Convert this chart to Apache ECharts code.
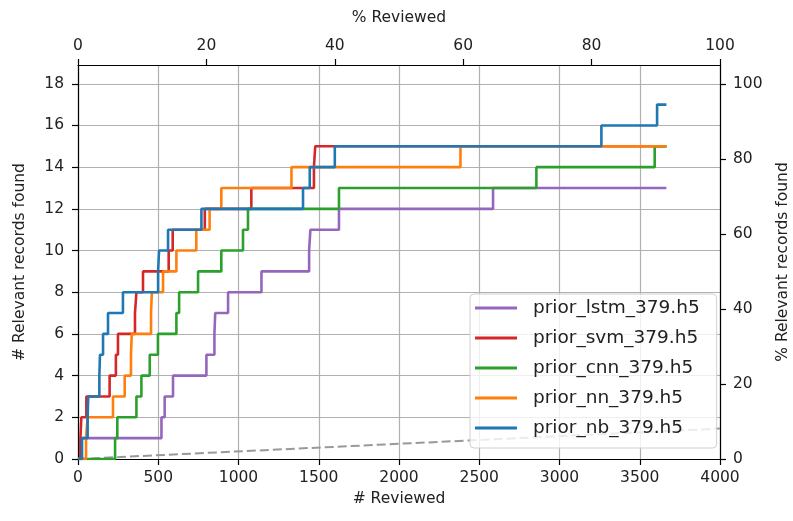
<!DOCTYPE html>
<html>
<head>
<meta charset="utf-8">
<script src="https://cdn.jsdelivr.net/npm/echarts@6/dist/echarts.min.js"></script>
<style>html,body{margin:0;padding:0;background:#fff;}#chart{width:793px;height:521px;}</style>
</head>
<body>
<div id="chart"></div>
<script>
// ---- data ----
const xTicks = [0, 500, 1000, 1500, 2000, 2500, 3000, 3500, 4000];
const yTicks = [0, 2, 4, 6, 8, 10, 12, 14, 16, 18];
const pctTicks = [0, 20, 40, 60, 80, 100];

const lstmX = [0, 15, 520, 540, 592, 800, 850, 855, 935, 1143, 1440, 1448, 1626, 2586, 3666];
const lstmY = [0, 1, 2, 3, 4, 5, 6, 7, 8, 9, 10, 11, 12, 13, 13];

const svmX = [0, 15, 21, 52, 197, 236, 249, 355, 364, 405, 565, 590, 790, 1080, 1470, 1478, 3666];
const svmY = [0, 1, 2, 3, 4, 5, 6, 7, 8, 9, 10, 11, 12, 13, 14, 15, 15];

const cnnX = [0, 231, 245, 364, 395, 447, 498, 613, 630, 748, 893, 1028, 1059, 1626, 2856, 3593, 3666];
const cnnY = [0, 1, 2, 3, 4, 5, 6, 7, 8, 9, 10, 11, 12, 13, 14, 15, 15];

const nnX = [0, 50, 60, 218, 291, 330, 335, 455, 460, 530, 613, 737, 820, 893, 1330, 2383, 3666];
const nnY = [0, 1, 2, 3, 4, 5, 6, 7, 8, 9, 10, 11, 12, 13, 14, 15, 15];

const nbX = [0, 25, 60, 64, 133, 137, 156, 187, 280, 499, 505, 561, 769, 1402, 1444, 1600, 3261, 3608, 3666];
const nbY = [0, 1, 2, 3, 4, 5, 6, 7, 8, 9, 10, 11, 12, 13, 14, 15, 16, 17, 17];

const randomX = [0, 4000];
const randomY = [0, 1.46];

const names = ['prior_lstm_379.h5', 'prior_svm_379.h5', 'prior_cnn_379.h5', 'prior_nn_379.h5', 'prior_nb_379.h5'];
const colors = ['#9467bd', '#d62728', '#2ca02c', '#ff7f0e', '#1f77b4'];

// ---- build ----
const zip = (xs, ys) => xs.map((x, i) => [x, ys[i]]);
const seriesData = [zip(lstmX, lstmY), zip(svmX, svmY), zip(cnnX, cnnY), zip(nnX, nnY), zip(nbX, nbY)];

const FONT = 'DejaVu Sans';
const TXT = '#222';
const tickFont = 15.5;
const plain = v => String(v);

const chart = echarts.init(document.getElementById('chart'), null, {renderer: 'canvas'});

const baseAxis = {
  type: 'value',
  axisLine: {show: true, onZero: false, lineStyle: {color: '#000', width: 1.2}},
  axisTick: {show: true, inside: false, length: 6, lineStyle: {color: '#000', width: 1.2}},
  axisLabel: {color: TXT, fontFamily: FONT, fontSize: tickFont, formatter: plain, hideOverlap: false},
  nameTextStyle: {color: TXT, fontFamily: FONT, fontSize: tickFont},
  nameLocation: 'middle'
};

const series = [{
  type: 'line',
  name: 'random',
  data: zip(randomX, randomY),
  showSymbol: false,
  silent: true,
  lineStyle: {color: '#999999', width: 2, type: [9, 4]},
  z: 2
}];
seriesData.forEach((d, i) => {
  series.push({
    type: 'line',
    name: names[i],
    data: d,
    step: 'end',
    showSymbol: false,
    color: colors[i],
    lineStyle: {color: colors[i], width: 2.6},
    z: 3 + i
  });
});

chart.setOption({
  animation: false,
  backgroundColor: '#fff',
  grid: {left: 78, right: 73, top: 65, bottom: 62, containLabel: false, outerBoundsMode: 'none'},
  xAxis: [
    Object.assign({}, baseAxis, {
      position: 'bottom', min: 0, max: 4000, interval: 500,
      name: '# Reviewed', nameGap: 31,
      axisLabel: Object.assign({}, baseAxis.axisLabel, {margin: 11, customValues: xTicks}),
      axisTick: Object.assign({}, baseAxis.axisTick, {customValues: xTicks}),
      splitLine: {show: true, lineStyle: {color: '#b0b0b0', width: 1.2}}
    }),
    Object.assign({}, baseAxis, {
      position: 'top', min: 0, max: 100, interval: 20,
      name: '% Reviewed', nameGap: 39,
      axisLabel: Object.assign({}, baseAxis.axisLabel, {margin: 11, customValues: pctTicks}),
      axisTick: Object.assign({}, baseAxis.axisTick, {customValues: pctTicks}),
      splitLine: {show: false}
    })
  ],
  yAxis: [
    Object.assign({}, baseAxis, {
      position: 'left', min: 0, max: 18.9, interval: 2,
      name: '# Relevant records found', nameGap: 50, nameRotate: 90,
      axisLabel: Object.assign({}, baseAxis.axisLabel, {margin: 14, customValues: yTicks}),
      axisTick: Object.assign({}, baseAxis.axisTick, {customValues: yTicks}),
      splitLine: {show: true, lineStyle: {color: '#b0b0b0', width: 1.2}}
    }),
    Object.assign({}, baseAxis, {
      position: 'right', min: 0, max: 105, interval: 20,
      name: '% Relevant records found', nameGap: 55, nameRotate: 90,
      axisLabel: Object.assign({}, baseAxis.axisLabel, {margin: 13, customValues: pctTicks}),
      axisTick: Object.assign({}, baseAxis.axisTick, {customValues: pctTicks}),
      splitLine: {show: false}
    })
  ],
  legend: {
    data: names,
    orient: 'vertical',
    left: 470,
    top: 294,
    icon: 'rect',
    itemWidth: 42,
    itemHeight: 3,
    itemGap: 10,
    padding: [4, 17, 10, 5],
    backgroundColor: 'rgba(255,255,255,0.8)',
    borderColor: '#d0d0d0',
    borderWidth: 1,
    borderRadius: 4,
    textStyle: {color: TXT, fontFamily: FONT, fontSize: 18.5, lineHeight: 20, padding: [0, 0, 0, 11]}
  },
  series: series
});
</script>
</body>
</html>
